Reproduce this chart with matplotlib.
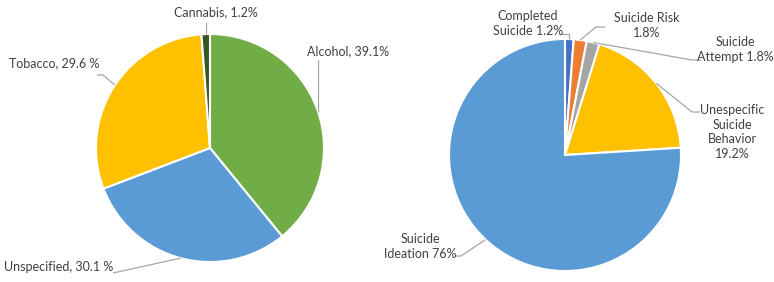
import numpy as np
import matplotlib
matplotlib.use("Agg")
import matplotlib.pyplot as plt

# ---- data ----
left_labels = ["Alcohol, 39.1%", "Unspecified, 30.1 %", "Tobacco, 29.6 %", "Cannabis, 1.2%"]
left_values = [39.1, 30.1, 29.6, 1.2]
left_colors = ["#70AD47", "#5B9BD5", "#FFC000", "#375623"]

right_labels = ["Completed\nSuicide 1.2%", "Suicide Risk\n1.8%", "Suicide\nAttempt 1.8%",
                "Unespecific\nSuicide\nBehavior\n19.2%", "Suicide\nIdeation 76%"]
right_values = [1.2, 1.8, 1.8, 19.2, 76.0]
right_colors = ["#4472C4", "#ED7D31", "#A5A5A5", "#FFC000", "#5B9BD5"]
right_explode = [0.02, 0.02, 0.02, 0.025, 0.0]

W, H = 774, 282
fig = plt.figure(figsize=(W / 100, H / 100), dpi=100)
ax = fig.add_axes([0, 0, 1, 1])

TXT = "#404040"
LINE = "#A6A6A6"
FONT = dict(family="Lato", fontsize=9, color=TXT)

def py(y):
    return H - y

# left pie
lc = (210, py(148))
lr = 114
lw, _ = ax.pie(left_values, colors=left_colors, startangle=90, counterclock=False,
               center=lc, radius=lr, frame=True,
               wedgeprops=dict(edgecolor="white", linewidth=1.5))

rc = (565, py(155))
rr = 116
rw, _ = ax.pie(right_values, colors=right_colors, startangle=90, counterclock=False,
               center=rc, radius=rr, explode=right_explode, frame=True,
               wedgeprops=dict(edgecolor="white", linewidth=1.5))
ax.set_xlim(0, W)
ax.set_ylim(0, H)
ax.set_aspect("equal")
ax.axis("off")

def edge_point(w, frac=0.5):
    a = np.deg2rad(w.theta1 + (w.theta2 - w.theta1) * frac)
    cx, cy = w.center
    return cx + w.r * np.cos(a), cy + w.r * np.sin(a)

def leader(pts):
    xs, ys = zip(*pts)
    ax.plot(xs, ys, color=LINE, lw=0.9, solid_capstyle="butt")

# left labels
ax.text(307, py(51), left_labels[0], ha="left", va="center", **FONT)
e = edge_point(lw[0], 0.49)
leader([(e[0], py(60)), e])

ax.text(4, py(267), left_labels[1], ha="left", va="center", **FONT)
e = edge_point(lw[1], 0.5)
leader([(113, py(273)), e])

ax.text(9, py(63), left_labels[2], ha="left", va="center", **FONT)
e = edge_point(lw[2], 0.49)
leader([(97, py(75)), (103, py(75)), e])

ax.text(216, py(12), left_labels[3], ha="center", va="center", **FONT)
e = edge_point(lw[3], 0.5)
leader([(e[0], py(22)), e])

# right labels
LS = 1.28
ax.text(528, py(23.5), right_labels[0], ha="center", va="center", linespacing=LS, **FONT)
e = edge_point(rw[0], 0.5)
leader([(560, py(34)), (e[0], py(34)), e])

ax.text(647, py(25.5), right_labels[1], ha="center", va="center", linespacing=LS, **FONT)
e = edge_point(rw[1], 0.5)
leader([(605, py(27)), (596, py(27)), e])

ax.text(735, py(49.5), right_labels[2], ha="center", va="center", linespacing=LS, **FONT)
e = edge_point(rw[2], 0.5)
leader([(701, py(60)), (692, py(60)), e])

ax.text(732, py(132), right_labels[3], ha="center", va="center", linespacing=LS, **FONT)
e = edge_point(rw[3], 0.5)
leader([(700, py(112)), (692, py(112)), e])

ax.text(420, py(246.5), right_labels[4], ha="center", va="center", linespacing=LS, **FONT)
e = edge_point(rw[4], 0.5)
leader([(455, py(256)), (461, py(256)), e])

fig.savefig("out.png", dpi=100)
